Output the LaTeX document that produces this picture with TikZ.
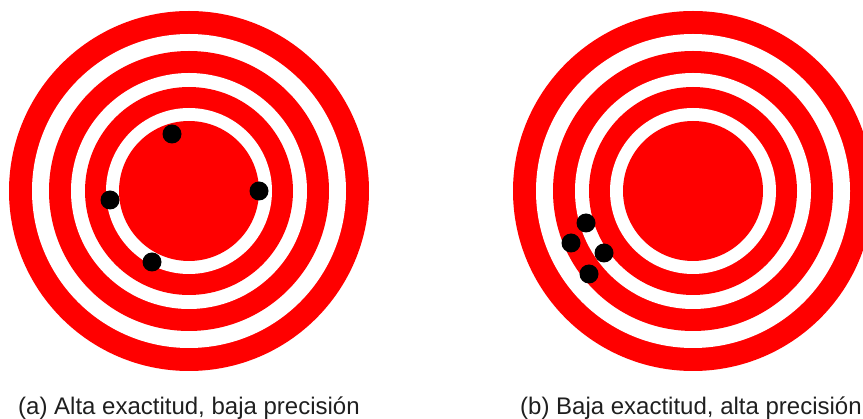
\documentclass[tikz,border=0pt]{standalone}
\usepackage{fontspec}
\setmainfont{Liberation Sans}
\usetikzlibrary{positioning}

\begin{document}
\begin{tikzpicture}[x=1pt, y=-1pt,
    shot/.style={circle, fill=black, inner sep=0pt, minimum size=19pt},
    caption/.style={anchor=base west, inner sep=0pt, text=black!88, font=\fontsize{24}{28}\selectfont}]
    \useasboundingbox (0,0) rectangle (863,419);
    \coordinate (ctrA) at (189,191);
    \coordinate (ctrB) at (693,191);
    % rings, outside in
    \foreach \r/\col in {180/red, 157/white, 140/red, 118/white, 104/red, 83/white, 70/red} {
        \fill[\col] (ctrA) circle[radius=\r pt];
        \fill[\col] (ctrB) circle[radius=\r pt];
    }
    % shots on target (a)
    \node[shot] (a1) at (172,134) {};
    \node[shot] (a2) at (259,191) {};
    \node[shot] (a3) at (110,200) {};
    \node[shot] (a4) at (152,262) {};
    % shots on target (b)
    \node[shot] (b1) at (586,223) {};
    \node[shot] (b2) at (571,243) {};
    \node[shot] (b3) at (604,253) {};
    \node[shot] (b4) at (589,274) {};
    \node[caption] (capA) at (18,415) {(a) Alta exactitud, baja precisión};
    \node[caption] (capB) at (520,415) {(b) Baja exactitud, alta precisión};
\end{tikzpicture}
\end{document}
